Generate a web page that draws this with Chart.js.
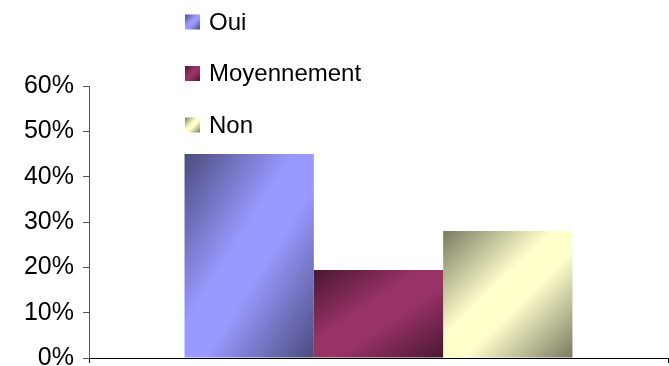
<!DOCTYPE html>
<html>
<head>
<meta charset="utf-8">
<script src="https://cdn.jsdelivr.net/npm/chart.js@4/dist/chart.umd.min.js"></script>
<style>
  html, body { margin: 0; padding: 0; background: #fff; }
  #wrap { width: 669px; height: 366px; position: relative; }
</style>
</head>
<body>
<div id="wrap"><canvas id="chart"></canvas></div>
<script>
const categories = [''];
const seriesLabels = ['Oui', 'Moyennement', 'Non'];
const ouiValues = [45];
const moyennementValues = [19.4];
const nonValues = [28];
const yTickMax = 60;
const yTickStep = 10;

// light centre colour and dark corner colour of each series
const lightColors = ['#9999ff', '#993366', '#ffffcc'];
const darkColors = ['#4b4b7e', '#4a1832', '#7a7a62'];

const FONT = "'Liberation Sans', Arial, sans-serif";

// diagonal shading: dark in the top-left and bottom-right corners, light along the other diagonal
function diagGradient(ctx, left, top, w, h, light, dark) {
  const cx = left + w / 2, cy = top + h / 2;
  const k = (w * h) / (w * w + h * h);
  const dx = h * k, dy = w * k;
  const g = ctx.createLinearGradient(cx - dx, cy - dy, cx + dx, cy + dy);
  g.addColorStop(0, dark);
  g.addColorStop(0.42, light);
  g.addColorStop(0.58, light);
  g.addColorStop(1, dark);
  return g;
}

const barShading = {
  id: 'barShading',
  afterDatasetsUpdate(chart) {
    chart.data.datasets.forEach((ds, i) => {
      chart.getDatasetMeta(i).data.forEach(bar => {
        const left = bar.x - bar.width / 2;
        const top = Math.min(bar.y, bar.base);
        const h = Math.abs(bar.base - bar.y);
        const fill = diagGradient(chart.ctx, left, top, bar.width, h, lightColors[i], darkColors[i]);
        bar.options = Object.assign({}, bar.options, { backgroundColor: fill });
      });
    });
  }
};

// legend stacked in one column above the plot
const columnLegend = {
  id: 'columnLegend',
  afterDraw(chart) {
    const ctx = chart.ctx;
    const boxX = 185, textX = 209, firstY = 22, rowGap = 51.5, box = 15;
    ctx.save();
    ctx.font = '24px ' + FONT;
    ctx.textBaseline = 'middle';
    chart.data.datasets.forEach((ds, i) => {
      const y = firstY + i * rowGap;
      ctx.fillStyle = diagGradient(ctx, boxX, y - box / 2, box, box, lightColors[i], darkColors[i]);
      ctx.fillRect(boxX, y - box / 2, box, box);
      ctx.fillStyle = '#000';
      ctx.fillText(ds.label, textX, y + 1);
    });
    ctx.restore();
  }
};

const series = [ouiValues, moyennementValues, nonValues];

new Chart(document.getElementById('chart'), {
  type: 'bar',
  data: {
    labels: categories,
    datasets: series.map((values, i) => ({
      label: seriesLabels[i],
      data: values,
      backgroundColor: lightColors[i],
      borderWidth: 0,
      categoryPercentage: 0.67,
      barPercentage: 1
    }))
  },
  options: {
    responsive: true,
    maintainAspectRatio: false,
    animation: false,
    events: [],
    layout: { padding: { top: 86, right: 1, left: 0, bottom: 0 } },
    plugins: {
      legend: { display: false },
      tooltip: { enabled: false }
    },
    scales: {
      x: {
        offset: true,
        grid: { offset: true, drawOnChartArea: false, tickLength: 5, color: '#000' },
        border: { color: '#000', width: 1 },
        ticks: { display: false },
        afterFit(scale) { scale.height = 8; }
      },
      y: {
        min: 0,
        max: yTickMax,
        ticks: {
          stepSize: yTickStep,
          color: '#000',
          padding: 9,
          font: { size: 25, family: FONT },
          callback: v => v + '%'
        },
        grid: { drawOnChartArea: false, tickLength: 6, color: '#555' },
        border: { color: '#555', width: 1 },
        afterFit(scale) {
          scale.width = 89;
          scale.paddingTop = 0;
          scale.paddingBottom = 0;
        }
      }
    }
  },
  plugins: [barShading, columnLegend]
});
</script>
</body>
</html>
